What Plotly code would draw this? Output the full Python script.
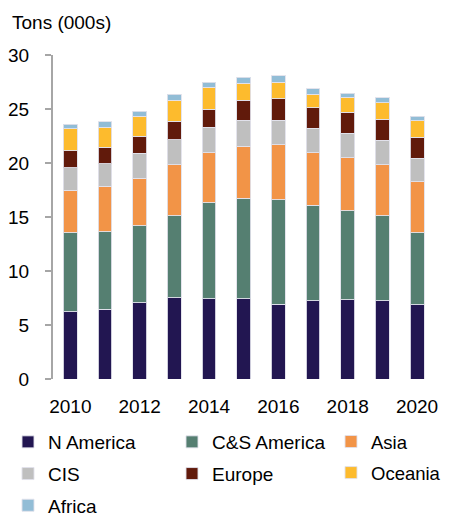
import plotly.graph_objects as go

years = [2010, 2011, 2012, 2013, 2014, 2015, 2016, 2017, 2018, 2019, 2020, 2021]
n_america = [6.23, 6.45, 7.06, 7.53, 7.44, 7.44, 6.94, 7.25, 7.34, 7.25, 6.88, 7.44]
cs_america = [7.33, 7.19, 7.11, 7.59, 8.88, 9.29, 9.66, 8.83, 8.24, 7.87, 6.64, 7.16]
asia = [3.91, 4.23, 4.44, 4.72, 4.63, 4.84, 5.09, 4.87, 4.91, 4.72, 4.75, 4.96]
cis = [2.07, 2.04, 2.29, 2.32, 2.36, 2.38, 2.29, 2.26, 2.26, 2.26, 2.19, 2.04]
europe = [1.60, 1.57, 1.60, 1.70, 1.69, 1.88, 1.95, 1.91, 1.97, 1.97, 1.92, 2.08]
oceania = [2.01, 1.85, 1.85, 1.97, 2.01, 1.55, 1.54, 1.24, 1.36, 1.49, 1.51, 1.41]
africa = [0.43, 0.47, 0.46, 0.53, 0.46, 0.55, 0.59, 0.52, 0.40, 0.49, 0.46, 0.53]

tick_years = [2010, 2012, 2014, 2016, 2018, 2020]
y_ticks = [0, 5, 10, 15, 20, 25, 30]

series = [
    ("N America", n_america, "#221651", "legend"),
    ("C&S America", cs_america, "#557f71", "legend2"),
    ("Asia", asia, "#f29447", "legend3"),
    ("CIS", cis, "#bfbfbf", "legend"),
    ("Europe", europe, "#611a0b", "legend2"),
    ("Oceania", oceania, "#fdbb2d", "legend3"),
    ("Africa", africa, "#92bdd6", "legend"),
]

FONT = "Liberation Sans, Arial, sans-serif"
W, H = 442, 509  # page body has an 8px margin

fig = go.Figure()
for name, vals, color, lg in series:
    fig.add_trace(go.Bar(
        x=years, y=vals, name=name, width=0.4,
        marker=dict(color=color, line=dict(color="rgba(225,225,235,0.9)", width=1)),
        legend=lg, legendgroup=name,
    ))

def leg(x, size=19):
    return dict(
        x=x, orientation="v", xref="container", yref="container", yanchor="top", xanchor="left",
        y=(H - 415) / H, traceorder="grouped", tracegroupgap=4,
        font=dict(family=FONT, size=size, color="#000000"), bgcolor="rgba(0,0,0,0)",
    )

fig.update_layout(
    width=W, height=H,
    barmode="stack",
    plot_bgcolor="white", paper_bgcolor="white",
    margin=dict(l=45, r=0, t=47, b=138, autoexpand=False),
    font=dict(family=FONT, size=19, color="#000000"),
    title=dict(text="Tons (000s)", xref="container", yref="container",
               x=4 / W, xanchor="left", y=1 - 14.5 / H, yanchor="middle",
               font=dict(family=FONT, size=19, color="#000000")),
    xaxis=dict(range=[2009.5, 2020.95], tickvals=tick_years, ticktext=[str(t) for t in tick_years],
               showline=False, showgrid=False, zeroline=False, ticks="",
               ticklabelstandoff=14, tickfont=dict(size=19)),
    yaxis=dict(range=[0, 30], tickvals=y_ticks, showgrid=False, zeroline=False,
               showline=True, linecolor="#a6a6a6", linewidth=2,
               ticks="outside", ticklen=6, tickcolor="#a6a6a6", tickwidth=1.5,
               ticklabelstandoff=12, tickfont=dict(size=19)),
    legend=leg(0),
    legend2=leg(164 / W),
    legend3=leg(323 / W, 18.5),
    showlegend=True,
)

fig.write_html("out.html")
